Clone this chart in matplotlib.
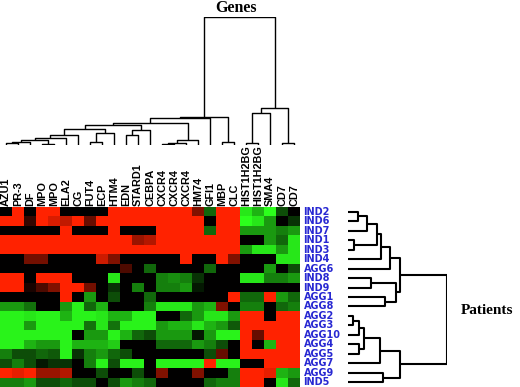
import numpy as np
import matplotlib
matplotlib.use("Agg")
import matplotlib.pyplot as plt
from matplotlib.colors import LinearSegmentedColormap

genes = ["AZU1", "PR-3", "DF", "MPO", "MPO", "ELA2", "CG", "FUT4", "ECP", "HTM4",
         "EDN", "STARD1", "CEBPA", "CXCR4", "CXCR4", "CXCR4", "HM74", "GFI1", "MBP",
         "CLC", "HIST1H2BG", "HIST1H2BG", "SMA4", "CD7", "CD7"]
patients = ["IND2", "IND6", "IND7", "IND1", "IND3", "IND4", "AGG6", "IND8", "IND9",
            "AGG1", "AGG8", "AGG2", "AGG3", "AGG10", "AGG4", "AGG5", "AGG7", "AGG9", "IND5"]

# expression, red = up, green = down (one row per patient, one value per gene)
expr = [
    [0, 1, 0, 1, 1, 0, 0, 0, 0, 1, 1, 1, 1, 1, 1, 1, 0.5, -0.4, 1, 1, -0.9, -0.7, -1, -0.3, 0],
    [1, 1, 0.2, 1, 0.85, 0.75, 1, 0.4, 1, 1, 1, 1, 1, 1, 1, 1, 1, 0, 1, 1, -1, -0.9, -0.6, 0, -0.2],
    [0, 0, 0, 0, 0, 1, 0, 0, 0, 1, 0, 0, 0, 1, 1, 1, 1, -0.4, 1, 1, -0.6, -0.6, -0.6, -0.5, -0.6],
    [1, 1, 1, 1, 1, 1, 1, 1, 1, 1, 1, 0.6, 0.7, 1, 1, 1, 1, 1, 1, 1, 0, 0, -0.6, -0.4, -0.9],
    [1, 1, 1, 1, 1, 1, 1, 1, 1, 1, 1, 1, 1, 1, 1, 1, 1, 1, 1, 1, -0.6, -0.9, -0.9, -0.6, -0.9],
    [0, 0, 0.45, 0.45, 0, 0, 0, 0, 0.8, 0.5, 0, 0, 0, 0, 0, 1, 0, 0, 1, 0.5, 0, 0, 0, -0.9, -0.9],
    [0, 0, 0, 0, 0, 0, 0, 0, 0, 0, 0.3, 0, -0.4, 0, 0, 0, 0, -0.4, 0, 0, 0, 0, -0.6, 0, -0.3],
    [1, 1, 0, 1, 1, 1, 0, 0, 0, -0.9, 0, 0, 0, -0.5, -0.55, -0.5, -0.2, 0, 0, 0, -0.9, -0.9, -0.5, -0.5, -0.6],
    [1, 1, 0.1, 0.3, 0.5, 1, 1, 0.45, 0, -0.2, 0, -0.5, 0, -0.5, -0.5, -0.6, -0.1, 0, 0, 0, 0, 0, 0, 0, 0],
    [0, 0, 0, 0, 0, 1, 0, -0.6, 0, -0.3, 0, 0, -0.4, 0, 0, 0, 0, 0, 0, 1, -0.4, -0.4, 1, -0.6, -0.4],
    [-0.6, -0.6, -0.45, 0, 0, -0.6, -0.95, -0.4, -0.7, 0, 0, 0, -0.5, -0.9, -0.9, -0.9, -0.6, -0.7, 0.5, 0, -0.5, -0.5, 0, -0.4, -0.5],
    [-0.95, -0.95, -0.9, -0.95, -0.95, -0.7, -0.95, -0.95, -0.9, -0.7, -0.7, -0.95, -0.95, 0, 0, -0.4, -0.6, -0.9, -0.9, -0.6, 1, 1, 0, 1, 1],
    [-0.95, -0.95, -0.6, -0.95, -0.95, -0.95, -0.95, -0.45, -0.9, -0.45, -0.95, -0.95, -0.95, -0.6, -0.7, -0.7, -0.9, -0.7, -0.6, -0.35, 1, 1, 1, 1, 1],
    [-0.95, -0.95, -0.95, -0.95, -0.95, -0.95, 0, -0.6, -0.6, -0.95, -0.7, -0.4, -0.3, -0.6, -0.6, -0.6, -0.1, -0.6, -0.95, -0.95, 1, 0.4, 1, 1, 1],
    [-0.95, -0.95, -0.7, -0.6, -0.6, -0.95, -0.7, -0.7, -0.7, -0.8, 0, 0, 0, -0.4, -0.4, -0.4, -0.6, -0.5, -0.3, 0, 1, 0, -0.7, 1, 1],
    [-0.5, -0.3, -0.3, -0.4, -0.35, -0.95, -0.2, -0.5, -0.6, -0.4, -0.3, 0, 0, 0, 0, 0, 0, -0.3, 0.4, 0, 1, 1, 1, 1, 1],
    [-0.3, -0.5, -0.3, -0.1, -0.2, -0.2, 0, -0.5, -0.95, -0.3, -0.95, -0.95, 0, -0.95, -0.95, -0.95, -0.95, 1, -0.95, -0.95, 0, 0, 1, 1, 1],
    [1, 0.9, 1, 0.6, 0.6, 0.7, 0, 0, -0.3, 0, 0, -0.3, 0, 0.5, 0, 0, 0.5, 0, 0, -0.5, 1, 1, 0.9, -0.7, -0.6],
    [-0.5, -0.5, -0.6, -0.3, -0.3, -0.4, -0.3, -0.3, 0, -0.3, -0.6, -0.5, -0.4, 0, 0, 0, 0, -0.4, -0.5, -0.5, 1, 1, 0, -0.9, -0.4],
]

# linkage-style merges: (child a, child b, height); ids >= n are earlier merges
gene_links = [
    (0, 1, 2), (25, 2, 3.3), (3, 4, 0.6), (26, 27, 5), (28, 5, 7.3), (29, 6, 10),
    (7, 8, 3), (31, 9, 12), (30, 32, 16), (10, 11, 10), (34, 12, 15), (33, 35, 20),
    (13, 14, 0.6), (37, 15, 2), (38, 16, 5), (36, 39, 22.3), (40, 17, 27), (18, 19, 3),
    (41, 42, 27.5), (20, 21, 2), (44, 22, 32), (23, 24, 2), (45, 46, 37), (43, 47, 128),
]
patient_links = [
    (0, 1, 10), (19, 2, 19), (3, 4, 5.7), (20, 21, 29), (22, 5, 33.3), (23, 6, 41.7),
    (7, 8, 22.7), (9, 10, 36.7), (25, 26, 48.3), (24, 27, 51.7),
    (11, 12, 5), (29, 13, 11), (14, 15, 11), (30, 31, 15.7), (32, 16, 31.7),
    (17, 18, 35), (33, 34, 51.7), (28, 35, 99),
]


def draw_dendro(ax, links, n, orient="top", lw=1.0):
    pos = {i: float(i) for i in range(n)}
    hgt = {i: 0.0 for i in range(n)}
    for k, (a, b, h) in enumerate(links):
        xs = [pos[a], pos[a], pos[b], pos[b]]
        ys = [hgt[a], h, h, hgt[b]]
        if orient == "top":
            ax.plot(xs, ys, color="black", lw=lw, solid_capstyle="butt")
        else:
            ax.plot(ys, xs, color="black", lw=lw, solid_capstyle="butt")
        pos[n + k] = (pos[a] + pos[b]) / 2
        hgt[n + k] = h


fig = plt.figure(figsize=(5.2, 3.87), dpi=100)
W, H = 520, 387

cmap = LinearSegmentedColormap.from_list("gkr", ["#2cff1c", "#000000", "#ff2200"])

ax = fig.add_axes([0, 0, 300 / W, 180 / H])
ax.imshow(np.array(expr), cmap=cmap, vmin=-1, vmax=1, aspect="auto", interpolation="nearest")
ax.set_xlim(-0.5, len(genes) - 0.5)
ax.set_ylim(len(patients) - 0.5, -0.5)
ax.axis("off")
for i, g in enumerate(genes):
    ax.text(i, -0.65, g, rotation=90, ha="center", va="bottom", fontsize=7.8,
            fontweight="bold", family="Liberation Sans", clip_on=False)
for j, p in enumerate(patients):
    ax.text(len(genes) - 0.5 + 0.3, j, p, ha="left", va="center", fontsize=7,
            fontweight="bold", family="DejaVu Sans", color="#2828d2", clip_on=False)

# gene dendrogram above the heatmap
axt = fig.add_axes([0, (H - 145) / H, 300 / W, (145 - 16.7) / H])
draw_dendro(axt, gene_links, len(genes), "top", lw=1.0)
axt.set_xlim(-0.5, len(genes) - 0.5)
axt.set_ylim(0, 128)
axt.axis("off")

# patient dendrogram on the right
axr = fig.add_axes([348 / W, 0, 99 / W, 180 / H])
draw_dendro(axr, patient_links, len(patients), "right", lw=1.5)
axr.set_xlim(0, 99)
axr.set_ylim(len(patients) - 0.5, -0.5)
axr.axis("off")

fig.text(236 / W, 1 - 7.5 / H, "Genes", ha="center", va="center", fontsize=11.5,
         fontweight="bold", family="Liberation Serif")
fig.text(487 / W, 1 - 311 / H, "Patients", ha="center", va="center", fontsize=11,
         fontweight="bold", family="Liberation Serif")

fig.savefig("out.png", dpi=100)
